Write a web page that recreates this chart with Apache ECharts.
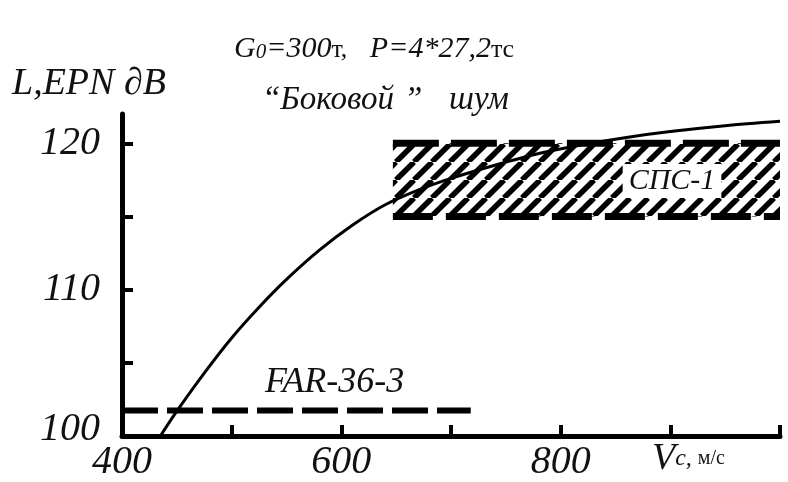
<!DOCTYPE html>
<html>
<head>
<meta charset="utf-8">
<script src="https://cdn.jsdelivr.net/npm/echarts@6/dist/echarts.min.js"></script>
<style>
html,body{margin:0;padding:0;background:#fff;}
#chart{width:788px;height:482px;}
</style>
</head>
<body>
<div id="chart"></div>
<script>
// ---- data ----
const xTicks = [400, 500, 600, 700, 800, 900, 1000];
const xLabels = [400, 600, 800];
const yTicks = [100, 105, 110, 115, 120];
const yLabels = [100, 110, 120];

// noise curve: speed V (m/s) vs L EPN (dB)
const curveV = [435, 450, 475, 500, 525, 550, 580, 610, 640, 670, 700, 740, 780, 820, 860, 900, 950, 1000];
const curveL = [100.0, 101.7, 104.3, 106.7, 108.8, 110.7, 112.7, 114.4, 115.8, 116.8, 117.6, 118.5, 119.3, 119.9, 120.4, 120.8, 121.2, 121.5];

// FAR-36-3 limit
const farV = [400, 718];
const farLevel = 101.75;

// СПС-1 band
const spsV = [647, 1000];
const spsLow = 115;
const spsHigh = 120;

// ---- build ----
const FONT = '"Liberation Serif", "Times New Roman", serif';

function hatch() {
  const s = 18;
  const c = document.createElement('canvas');
  c.width = s; c.height = s;
  const g = c.getContext('2d');
  g.fillStyle = '#fff';
  g.fillRect(0, 0, s, s);
  g.strokeStyle = '#000';
  g.lineWidth = 5.5;
  g.lineCap = 'butt';
  for (let k = -1; k <= 1; k++) {
    g.beginPath();
    g.moveTo(k * s, s);
    g.lineTo(k * s + s, 0);
    g.stroke();
  }
  return c;
}

const chart = echarts.init(document.getElementById('chart'), null, {renderer: 'canvas'});

const axisCommon = {
  axisLine: {show: true, lineStyle: {color: '#000', width: 5}},
  axisTick: {show: true, inside: true, length: 11, lineStyle: {color: '#000', width: 4}},
  splitLine: {show: false}
};

chart.setOption({
  animation: false,
  backgroundColor: '#fff',
  grid: {left: 122, right: 8, top: 114, bottom: 43, containLabel: false},
  xAxis: Object.assign({
    type: 'value', min: xTicks[0], max: xTicks[xTicks.length - 1], interval: 100,
    axisLabel: {
      customValues: xLabels, margin: 6,
      fontFamily: FONT, fontStyle: 'italic', fontSize: 40, color: '#111'
    }
  }, axisCommon, {
    axisTick: Object.assign({}, axisCommon.axisTick, {customValues: xTicks})
  }),
  yAxis: Object.assign({
    type: 'value', min: 100, max: 122,
    axisLabel: {
      customValues: yLabels, margin: 22,
      fontFamily: FONT, fontStyle: 'italic', fontSize: 40, color: '#111',
      formatter: function (v) { return v === 100 ? '{lo|' + v + '}' : '{n|' + v + '}'; },
      rich: {
        n: {fontFamily: FONT, fontStyle: 'italic', fontSize: 40, color: '#111'},
        lo: {fontFamily: FONT, fontStyle: 'italic', fontSize: 40, color: '#111', padding: [0, 0, 14, 0]}
      }
    }
  }, axisCommon, {
    axisTick: Object.assign({}, axisCommon.axisTick, {customValues: yTicks})
  }),
  series: [
    {
      type: 'line', name: 'band', silent: true,
      data: [],
      markArea: {
        silent: true,
        itemStyle: {color: {image: hatch(), repeat: 'repeat'}, borderWidth: 0},
        data: [[{coord: [spsV[0], spsLow]}, {coord: [spsV[1], spsHigh]}]]
      }
    },
    {
      type: 'line', name: 'bandTop', symbol: 'none', silent: true,
      data: spsV.map(v => [v, spsHigh]),
      lineStyle: {color: '#000', width: 7, type: [46, 12]}
    },
    {
      type: 'line', name: 'bandBottom', symbol: 'none', silent: true,
      data: spsV.map(v => [v, spsLow]),
      lineStyle: {color: '#000', width: 7, type: [40, 13]}
    },
    {
      type: 'line', name: 'FAR', symbol: 'none', silent: true,
      data: farV.map(v => [v, farLevel]),
      lineStyle: {color: '#000', width: 6, type: [36, 9]}
    },
    {
      type: 'line', name: 'curve', symbol: 'none', smooth: 0.3, silent: true,
      data: curveV.map((v, i) => [v, curveL[i]]),
      lineStyle: {color: '#000', width: 3}
    }
  ],
  graphic: [
    {type: 'text', x: 12, y: 103, style: {text: 'L,EPN ∂B', font: 'italic 38px ' + FONT, fill: '#111', textVerticalAlign: 'bottom'}},
    {type: 'text', x: 234, y: 49, style: {
      text: '{b|G}{s|0}{b|=300}{u|т,}{b|   P=4*27,2}{u|тс}', textVerticalAlign: 'middle',
      rich: {
        b: {font: 'italic 30px ' + FONT, fill: '#111'},
        u: {font: '26px ' + FONT, fill: '#111', padding: [3, 0, 0, 0]},
        s: {font: 'italic 21px ' + FONT, fill: '#111', padding: [6, 0, 0, 0]}
      }
    }},
    {type: 'text', x: 262, y: 100, style: {text: '“Боковой', font: 'italic 33px ' + FONT, fill: '#111', textVerticalAlign: 'middle'}},
    {type: 'text', x: 404, y: 100, style: {text: '”', font: 'italic 33px ' + FONT, fill: '#111', textVerticalAlign: 'middle'}},
    {type: 'text', x: 449, y: 100, style: {text: 'шум', font: 'italic 33px ' + FONT, fill: '#111', textVerticalAlign: 'middle'}},
    {type: 'text', x: 672, y: 181, z: 10, style: {
      text: 'СПС-1', font: 'italic 30px ' + FONT, fill: '#111',
      textAlign: 'center', textVerticalAlign: 'middle',
      backgroundColor: '#fff', padding: [2, 6, 2, 6]
    }},
    {type: 'text', x: 265, y: 383, style: {text: 'FAR-36-3', font: 'italic 36px ' + FONT, fill: '#111', textVerticalAlign: 'middle'}},
    {type: 'text', x: 652, y: 478, style: {
      text: '{v|V}{c|c, }{u|м/с}', textVerticalAlign: 'bottom',
      rich: {
        v: {font: 'italic 38px ' + FONT, fill: '#111'},
        c: {font: 'italic 24px ' + FONT, fill: '#111'},
        u: {font: '20px ' + FONT, fill: '#111'}
      }
    }}
  ]
});
</script>
</body>
</html>
